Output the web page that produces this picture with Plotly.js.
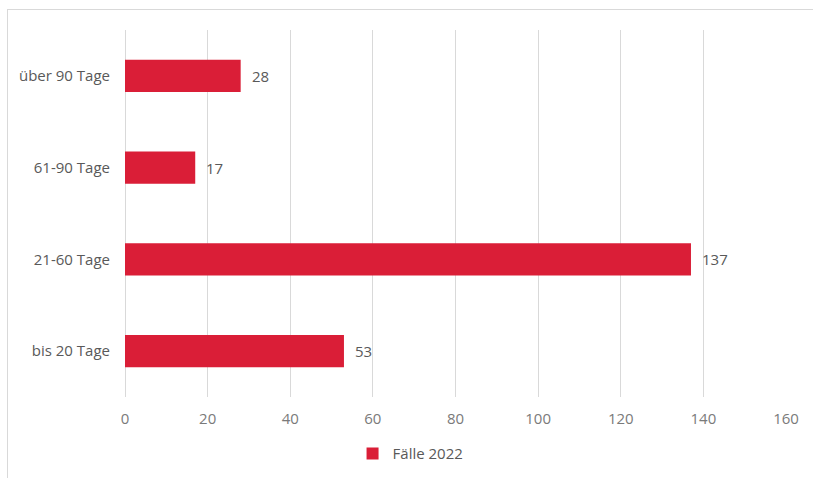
<!DOCTYPE html>
<html><head><meta charset="utf-8">
<script src="https://cdn.plot.ly/plotly-3.0.1.min.js"></script>
<style>
html,body{margin:0;padding:0;background:#fff;}
#frame{position:absolute;left:7px;top:9px;width:820px;height:480px;border-left:1px solid #d9d9d9;border-top:1px solid #d9d9d9;}
#chart{position:absolute;left:0;top:0;width:813px;height:478px;}
</style></head>
<body>
<div id="frame"></div>
<div id="chart"></div>
<script>
const categories = ["bis 20 Tage", "21-60 Tage", "61-90 Tage", "über 90 Tage"];
const values = [53, 137, 17, 28];
const seriesName = "Fälle 2022";
const xTicks = [0, 20, 40, 60, 80, 100, 120, 140, 160];

const fam = "'Open Sans', sans-serif";
const fs = 15;
Plotly.newPlot("chart", [{
  type: "bar", orientation: "h",
  y: categories, x: values, name: seriesName,
  marker: {color: "#DA1E37"},
  width: 0.35,
  showlegend: true
}], {
  width: 813, height: 478,
  paper_bgcolor: "rgba(0,0,0,0)", plot_bgcolor: "rgba(0,0,0,0)",
  margin: {l: 125, r: 27, t: 30, b: 81, autoexpand: false},
  font: {family: fam, size: fs, color: "#595959"},
  xaxis: {range: [0, 160], tickvals: xTicks, ticktext: xTicks.map(String), showgrid: true, gridcolor: "#d9d9d9", gridwidth: 1, zeroline: true, zerolinecolor: "#d9d9d9", zerolinewidth: 1, showline: false, ticks: "", ticklabelstandoff: 11, tickfont: {family: fam, size: fs, color: "#7a7a7a"}, fixedrange: true, automargin: false},
  yaxis: {showgrid: false, zeroline: false, showline: false, ticks: "", ticklabelstandoff: 14, tickfont: {family: fam, size: fs, color: "#595959"}, automargin: false},
  annotations: values.map((v, i) => ({x: v, y: categories[i], xref: "x", yref: "y", text: String(v), showarrow: false, xanchor: "left", xshift: 9, font: {family: fam, size: fs, color: "#595959"}})),
  showlegend: true,
  legend: {orientation: "h", x: 0.432, xanchor: "center", y: -0.11, yanchor: "top", itemwidth: 30, font: {family: fam, size: fs, color: "#595959"}},
}, {displayModeBar: false, staticPlot: true});
</script>
</body></html>
